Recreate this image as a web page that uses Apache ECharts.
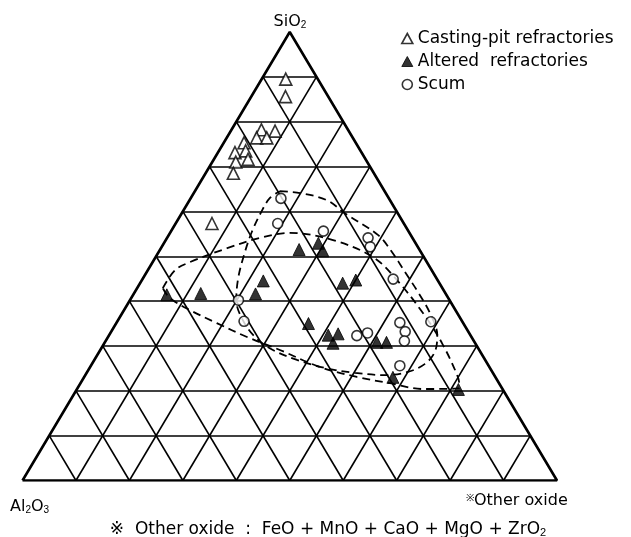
<!DOCTYPE html>
<html lang="en">
<head>
  <meta charset="UTF-8">
  <title>SiO2 - Al2O3 - Other oxide</title>
  <script src="https://cdn.jsdelivr.net/npm/echarts@6/dist/echarts.min.js"></script>
  <style>
    html, body {
      margin: 0;
      padding: 0;
      background-color: #fff;
    }
    #chart {
      width: 631px;
      height: 537px;
    }
  </style>
</head>
<body>
  <div id="chart"></div>

  <script>
    // compositions, [SiO2, Al2O3, Other oxide] in %
    var castingPit = [
      [89.5, 6.0, 4.5], [85.6, 8.0, 6.4], [78.2, 16.2, 5.6], [77.9, 13.8, 8.3],
      [76.4, 18.0, 5.6], [76.4, 16.1, 7.5], [75.3, 20.9, 3.8], [73.1, 23.7, 3.2],
      [73.5, 21.5, 5.0], [71.6, 22.0, 6.4], [71.0, 24.6, 4.4], [68.5, 26.3, 5.2],
      [57.3, 35.9, 6.8]
    ];
    var altered = [
      [41.4, 52.3, 6.3], [41.7, 45.8, 12.5], [44.5, 32.7, 22.8], [41.6, 35.6, 22.8],
      [51.5, 22.5, 26.0], [52.9, 18.2, 28.9], [51.2, 18.2, 30.6], [44.0, 18.1, 37.9],
      [44.7, 15.3, 40.0], [35.0, 29.0, 36.0], [32.4, 26.6, 41.0], [32.7, 24.6, 42.7],
      [30.6, 26.6, 42.8], [30.8, 18.3, 50.9], [30.8, 16.5, 52.7], [23.0, 19.2, 57.8],
      [20.3, 8.3, 71.4]
    ];
    var scum = [
      [62.9, 20.2, 16.9], [57.3, 23.6, 19.1], [55.6, 15.9, 28.5], [40.2, 39.5, 20.3],
      [35.5, 40.8, 23.7], [54.1, 8.3, 37.6], [52.1, 8.9, 39.0], [44.9, 8.2, 46.9],
      [32.3, 21.3, 46.4], [32.9, 19.0, 48.1], [35.2, 11.8, 53.0], [33.2, 11.8, 55.0],
      [31.1, 13.0, 55.9], [35.4, 5.9, 58.7], [25.6, 16.6, 57.8]
    ];
    // dashed boundary outlines
    var loopA = [
      [42.9, 52.3, 4.8], [46.9, 48.0, 5.1], [48.7, 44.3, 7.0], [51.8, 35.8, 12.4],
      [54.1, 28.5, 17.4], [55.2, 22.4, 22.4], [53.6, 15.1, 31.3], [49.8, 9.5, 40.7],
      [44.7, 7.6, 47.7], [37.3, 6.4, 56.3], [30.7, 6.2, 63.1], [23.1, 7.0, 69.9],
      [20.6, 7.9, 71.5], [20.4, 14.9, 64.7], [21.7, 20.4, 57.9], [23.1, 25.9, 51.0],
      [25.3, 31.7, 43.0], [29.1, 37.3, 33.6], [32.0, 42.0, 26.0], [35.1, 46.1, 18.8],
      [38.0, 49.7, 12.3], [40.7, 52.1, 7.2], [42.9, 52.3, 4.8]
    ];
    var loopB = [
      [64.5, 19.6, 15.9], [64.1, 16.0, 19.9], [62.5, 11.8, 25.7], [59.6, 9.9, 30.5],
      [54.7, 6.1, 39.2], [50.9, 5.4, 43.7], [46.5, 5.2, 48.3], [42.0, 5.0, 53.0],
      [37.3, 5.1, 57.6], [32.4, 6.2, 61.4], [28.7, 8.5, 62.8], [26.0, 11.7, 62.3],
      [24.2, 15.8, 60.0], [23.5, 20.4, 56.1], [24.0, 25.8, 50.2], [25.1, 30.9, 44.0],
      [26.9, 35.2, 37.9], [29.1, 38.6, 32.3], [32.0, 40.5, 27.5], [35.8, 40.9, 23.3],
      [40.2, 39.9, 19.9], [45.1, 37.1, 17.8], [50.3, 33.4, 16.3], [55.4, 29.4, 15.2],
      [60.3, 25.0, 14.7], [63.0, 22.2, 14.8], [64.5, 19.6, 15.9]
    ];
    var gridTicks = [10, 20, 30, 40, 50, 60, 70, 80, 90];
    var seriesNames = ['Casting-pit refractories', 'Altered  refractories', 'Scum'];

    // ternary -> x (0..100 along base), y (SiO2 height 0..100)
    function toXY(c) {
      var t = c[0] + c[1] + c[2];
      var si = c[0] / t * 100;
      var ot = c[2] / t * 100;
      return [ot + si / 2, si];
    }

    // grid lines of the triangle
    var gridLines = [];
    gridTicks.forEach(function(v) {
      // constant SiO2
      gridLines.push({ coords: [[v / 2, v], [100 - v / 2, v]] });
      // constant Other oxide
      gridLines.push({ coords: [[v, 0], [v + (100 - v) / 2, 100 - v]] });
      // constant Al2O3
      gridLines.push({ coords: [[100 - v, 0], [(100 - v) / 2, 100 - v]] });
    });

    var openStyle = { color: '#fff', borderColor: '#000', borderWidth: 1.6 };
    var fillStyle = { color: '#000', borderColor: '#000', borderWidth: 1 };

    var chart = echarts.init(document.getElementById('chart'));
    chart.setOption({
      animation: false,
      textStyle: { fontFamily: 'DejaVu Sans' },
      grid: { left: 22.5, right: 74, top: 32, bottom: 56.5 },
      xAxis: { type: 'value', min: 0, max: 100, show: false },
      yAxis: { type: 'value', min: 0, max: 100, show: false },
      legend: {
        orient: 'vertical',
        left: 396,
        top: 25,
        itemWidth: 11,
        itemHeight: 10,
        itemGap: 6,
        textStyle: { fontSize: 17, lineHeight: 16, color: '#000', fontFamily: 'DejaVu Sans' },
        data: [
          { name: seriesNames[0], icon: 'triangle', itemStyle: openStyle },
          { name: seriesNames[1], icon: 'triangle', itemStyle: fillStyle },
          { name: seriesNames[2], icon: 'circle', itemStyle: openStyle }
        ]
      },
      graphic: [
        {
          type: 'text', x: 290, y: 22,
          style: {
            text: 'SiO{s|2}', fill: '#000', font: '16px DejaVu Sans',
            textAlign: 'center', textVerticalAlign: 'middle',
            rich: { s: { fontSize: 10, verticalAlign: 'bottom', lineHeight: 14 } }
          }
        },
        {
          type: 'text', x: 10, y: 507,
          style: {
            text: 'Al{s|2}O{s|3}', fill: '#000', font: '16px DejaVu Sans',
            textAlign: 'left', textVerticalAlign: 'middle',
            rich: { s: { fontSize: 10, verticalAlign: 'bottom', lineHeight: 14 } }
          }
        },
        {
          type: 'text', x: 466, y: 501,
          style: {
            text: '{p|※}Other oxide', fill: '#000', font: '16px DejaVu Sans',
            textAlign: 'left', textVerticalAlign: 'middle',
            rich: { p: { fontSize: 10, verticalAlign: 'top', lineHeight: 14 } }
          }
        },
        {
          type: 'text', x: 328, y: 530,
          style: {
            text: '※  Other oxide  :  FeO + MnO + CaO + MgO + ZrO{s|2}', fill: '#000',
            font: '17px DejaVu Sans', textAlign: 'center', textVerticalAlign: 'middle',
            rich: { s: { fontSize: 11, verticalAlign: 'bottom', lineHeight: 14 } }
          }
        }
      ],
      series: [
        {
          type: 'lines',
          coordinateSystem: 'cartesian2d',
          silent: true,
          lineStyle: { color: '#000', width: 1.6, opacity: 1 },
          data: gridLines,
          z: 1
        },
        {
          type: 'line',
          silent: true,
          symbol: 'none',
          lineStyle: { color: '#000', width: 2.6 },
          data: [toXY([0, 100, 0]), toXY([0, 0, 100]), toXY([100, 0, 0]), toXY([0, 100, 0])],
          z: 2
        },
        {
          type: 'line',
          silent: true,
          symbol: 'none',
          smooth: 0.35,
          lineStyle: { color: '#000', width: 1.8, type: [8, 5] },
          data: loopA.map(toXY),
          z: 3
        },
        {
          type: 'line',
          silent: true,
          symbol: 'none',
          smooth: 0.35,
          lineStyle: { color: '#000', width: 1.8, type: [8, 5] },
          data: loopB.map(toXY),
          z: 3
        },
        {
          name: seriesNames[0],
          type: 'scatter',
          symbol: 'triangle',
          symbolSize: 12,
          itemStyle: openStyle,
          data: castingPit.map(toXY),
          z: 5
        },
        {
          name: seriesNames[1],
          type: 'scatter',
          symbol: 'triangle',
          symbolSize: 12,
          itemStyle: fillStyle,
          data: altered.map(toXY),
          z: 5
        },
        {
          name: seriesNames[2],
          type: 'scatter',
          symbol: 'circle',
          symbolSize: 10,
          itemStyle: openStyle,
          data: scum.map(toXY),
          z: 5
        }
      ]
    });
  </script>
</body>
</html>
